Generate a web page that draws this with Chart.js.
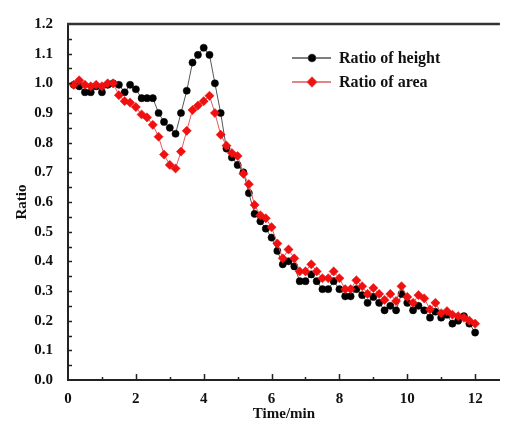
<!DOCTYPE html>
<html>
<head>
<meta charset="utf-8">
<script src="https://cdn.jsdelivr.net/npm/chart.js@4.4.1/dist/chart.umd.min.js"></script>
<style>
  html, body { margin: 0; padding: 0; background: #fff; overflow: hidden; }
  #wrap { position: relative; width: 505px; height: 425px; }
</style>
</head>
<body>
<div id="wrap"><canvas id="ratioChart" width="505" height="425"></canvas></div>
<script>
// sampling times (min)
const times = [0.17,0.33,0.50,0.67,0.83,1.00,1.17,1.33,1.50,1.67,1.83,2.00,
  2.17,2.33,2.50,2.67,2.83,3.00,3.17,3.33,3.50,3.67,3.83,4.00,
  4.17,4.33,4.50,4.67,4.83,5.00,5.17,5.33,5.50,5.67,5.83,6.00,
  6.17,6.33,6.50,6.67,6.83,7.00,7.17,7.33,7.50,7.67,7.83,8.00,
  8.17,8.33,8.50,8.67,8.83,9.00,9.17,9.33,9.50,9.67,9.83,10.00,
  10.17,10.33,10.50,10.67,10.83,11.00,11.17,11.33,11.50,11.67,11.83,12.00];

const ratioHeight = [0.995,0.99,0.97,0.97,0.99,0.97,0.995,1.0,0.995,0.97,0.995,0.98,
  0.95,0.95,0.95,0.90,0.87,0.85,0.83,0.90,0.975,1.07,1.096,1.12,
  1.096,1.0,0.90,0.78,0.75,0.725,0.70,0.63,0.56,0.535,0.51,0.48,
  0.435,0.39,0.40,0.383,0.333,0.333,0.356,0.333,0.306,0.306,0.333,0.306,
  0.282,0.282,0.306,0.286,0.26,0.28,0.26,0.235,0.25,0.235,0.29,0.26,
  0.235,0.25,0.235,0.21,0.23,0.21,0.22,0.19,0.20,0.215,0.19,0.16];

const ratioArea = [0.995,1.01,0.995,0.99,0.995,0.99,1.0,1.0,0.96,0.94,0.935,0.92,
  0.895,0.885,0.86,0.82,0.76,0.725,0.713,0.77,0.84,0.91,0.925,0.94,
  0.958,0.90,0.827,0.79,0.765,0.755,0.695,0.66,0.59,0.555,0.545,0.515,
  0.46,0.41,0.44,0.41,0.366,0.366,0.39,0.366,0.343,0.343,0.366,0.343,
  0.306,0.306,0.336,0.316,0.29,0.31,0.29,0.27,0.29,0.266,0.316,0.28,
  0.26,0.286,0.275,0.238,0.26,0.225,0.232,0.22,0.215,0.21,0.20,0.19];

const seriesNames = ['Ratio of height', 'Ratio of area'];
const xTickLabels = [0, 2, 4, 6, 8, 10, 12];

const labelFont = { family: 'Liberation Serif', weight: 'bold', size: 15 };

// inward tick marks + top frame line
const tickPlugin = {
  id: 'inwardTicks',
  afterDraw(chart) {
    const ctx = chart.ctx;
    const xs = chart.scales.x, ys = chart.scales.y;
    const area = chart.chartArea;
    ctx.save();
    ctx.strokeStyle = '#222';
    ctx.lineWidth = 1.5;
    ctx.beginPath();
    for (let v = 1; v <= 12; v++) {
      const px = Math.round(xs.getPixelForValue(v)) + 0.5;
      const len = v % 2 === 0 ? 6 : 3;
      ctx.moveTo(px, area.bottom);
      ctx.lineTo(px, area.bottom - len);
    }
    for (let k = 1; k < 24; k++) {
      const py = Math.round(ys.getPixelForValue(k * 0.05)) + 0.5;
      ctx.moveTo(area.left, py);
      ctx.lineTo(area.left + 4, py);
    }
    ctx.stroke();
    // top frame
    ctx.strokeStyle = '#333';
    ctx.lineWidth = 2.5;
    ctx.beginPath();
    ctx.moveTo(area.left - 1, area.top);
    ctx.lineTo(area.right, area.top);
    ctx.stroke();
    ctx.restore();
  }
};

// legend drawn inside plot, top right
const legendPlugin = {
  id: 'innerLegend',
  afterDraw(chart) {
    const ctx = chart.ctx;
    ctx.save();
    ctx.font = 'bold 16px "Liberation Serif"';
    ctx.textBaseline = 'middle';
    const rows = [58, 82];
    chart.data.datasets.forEach((ds, i) => {
      const y = rows[i];
      ctx.strokeStyle = ds.borderColor;
      ctx.lineWidth = 1.5;
      ctx.beginPath();
      ctx.moveTo(292, y);
      ctx.lineTo(331, y);
      ctx.stroke();
      Chart.helpers.drawPoint(ctx, {
        pointStyle: ds.pointStyle, radius: ds.pointRadius, rotation: 0, borderWidth: 1
      }, 312, y);
      ctx.fillStyle = ds.pointBackgroundColor;
      ctx.strokeStyle = ds.pointBorderColor;
      ctx.beginPath();
      if (ds.pointStyle === 'circle') {
        ctx.arc(312, y, ds.pointRadius, 0, Math.PI * 2);
      } else {
        const r = ds.pointRadius;
        ctx.moveTo(312, y - r); ctx.lineTo(312 + r, y);
        ctx.lineTo(312, y + r); ctx.lineTo(312 - r, y);
        ctx.closePath();
      }
      ctx.fill();
      ctx.fillStyle = '#111';
      ctx.fillText(ds.label, 339, y + 1);
    });
    ctx.restore();
  }
};

const ctx = document.getElementById('ratioChart').getContext('2d');
new Chart(ctx, {
  type: 'line',
  data: {
    datasets: [
      {
        label: seriesNames[0],
        data: times.map((t, i) => ({ x: t, y: ratioHeight[i] })),
        borderColor: '#555',
        borderWidth: 1,
        pointStyle: 'circle',
        pointRadius: 3.6,
        pointBackgroundColor: '#000',
        pointBorderColor: '#000',
        pointBorderWidth: 0.5,
        order: 1
      },
      {
        label: seriesNames[1],
        data: times.map((t, i) => ({ x: t, y: ratioArea[i] })),
        borderColor: '#e05a5a',
        borderWidth: 1,
        pointStyle: 'rectRot',
        pointRadius: 4.6,
        pointBackgroundColor: '#f01010',
        pointBorderColor: '#e81010',
        pointBorderWidth: 0.5,
        order: 0
      }
    ]
  },
  options: {
    responsive: false,
    animation: false,
    layout: { padding: { top: 22, right: 0, left: 0, bottom: 0 } },
    plugins: { legend: { display: false }, tooltip: { enabled: false } },
    scales: {
      x: {
        type: 'linear',
        min: 0,
        max: 12.73,
        grid: { drawOnChartArea: false, drawTicks: false },
        border: { display: true, color: '#222', width: 2 },
        ticks: {
          stepSize: 1,
          includeBounds: false,
          autoSkip: false,
          maxRotation: 0,
          padding: 10,
          color: '#111',
          font: labelFont,
          callback: v => xTickLabels.includes(v) ? String(v) : ''
        },
        title: { display: true, text: 'Time/min', color: '#111', font: labelFont, padding: { top: 0, bottom: 2 } },
        afterFit: s => { s.height = 45; }
      },
      y: {
        min: 0,
        max: 1.2,
        grid: { drawOnChartArea: false, drawTicks: false },
        border: { display: true, color: '#222', width: 2 },
        ticks: {
          stepSize: 0.1,
          padding: 15,
          color: '#111',
          font: labelFont,
          callback: v => v.toFixed(1)
        },
        title: { display: true, text: 'Ratio', color: '#111', font: labelFont, padding: { top: 13, bottom: 0 } },
        afterFit: s => { s.width = 68; }
      }
    }
  },
  plugins: [tickPlugin, legendPlugin]
});
</script>
</body>
</html>
